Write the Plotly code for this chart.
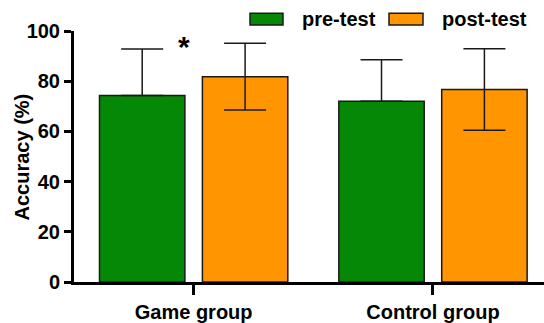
import plotly.graph_objects as go

# Accuracy by group, pre vs post test (mean and SD)
groups = ["Game group", "Control group"]
pre_mean = [74.3, 72.0]
pre_sd = [18.5, 16.5]
post_mean = [81.8, 76.7]
post_sd = [13.3, 16.2]
y_ticks = [0, 20, 40, 60, 80, 100]

GREEN = "#058805"
ORANGE = "#FF9500"
DARK = "#1a1a1a"
FONT = dict(family="Liberation Sans, Arial, sans-serif", size=20, color="black", weight="bold")

W, H = 544, 323
L, R, T, B = 74, 0, 31, 36

fig = go.Figure()
fig.add_trace(go.Bar(
    x=groups, y=pre_mean, name="pre-test",
    marker=dict(color=GREEN, line=dict(color=DARK, width=1.5)),
    error_y=dict(type="data", symmetric=False, array=pre_sd, arrayminus=[0, 0],
                 color=DARK, thickness=1.5, width=21),
))
fig.add_trace(go.Bar(
    x=groups, y=post_mean, name="post-test",
    marker=dict(color=ORANGE, line=dict(color=DARK, width=1.5)),
    error_y=dict(type="data", array=post_sd, color=DARK, thickness=1.5, width=21),
))

# significance marker over the game group
fig.add_annotation(x=-0.04, y=93.8, text="*", showarrow=False,
                   font=dict(family=FONT["family"], size=30, color="black", weight="bold"),
                   xanchor="center", yanchor="middle")

# custom legend with wide swatches
pw, ph = W - L - R, H - T - B


def px_x(v):
    return (v - L) / pw


def px_y(v):
    return (H - B - v) / ph


legend_items = [("pre-test", GREEN, 250, 283, 300), ("post-test", ORANGE, 389, 423, 440)]
for label, color, x0, x1, tx in legend_items:
    fig.add_shape(type="rect", xref="paper", yref="paper",
                  x0=px_x(x0), x1=px_x(x1), y0=px_y(25), y1=px_y(13),
                  fillcolor=color, line=dict(color=DARK, width=1.5))
    fig.add_annotation(xref="paper", yref="paper", x=px_x(tx), y=px_y(19),
                       text=label, showarrow=False, xanchor="left", yanchor="middle",
                       font=FONT)

# y-axis title placed by hand so it sits close to the tick labels
fig.add_annotation(xref="paper", yref="paper", x=px_x(22), y=px_y(160),
                   text="Accuracy (%)", textangle=-90, showarrow=False,
                   xanchor="center", yanchor="middle", font=FONT)

fig.update_layout(
    width=W, height=H,
    margin=dict(l=L, r=R, t=T, b=B),
    paper_bgcolor="white", plot_bgcolor="white",
    barmode="group", bargap=0.14, bargroupgap=0.17,
    showlegend=False,
    font=FONT,
    xaxis=dict(range=[-0.5, 1.464], showline=True, linecolor="black", linewidth=3,
               ticks="outside", ticklen=10, tickwidth=3, tickcolor="black",
               showgrid=False, tickfont=FONT, fixedrange=True),
    # labelled axis with short ticks so the numbers sit close to the axis
    yaxis=dict(range=[0, 100], tickvals=y_ticks, showline=True, linecolor="black",
               linewidth=3, ticks="outside", ticklen=7, tickwidth=3, tickcolor="black",
               showgrid=False, zeroline=False, tickfont=FONT),
    # overlay axis drawing the full-length tick marks
    yaxis2=dict(range=[0, 100], tickvals=y_ticks, overlaying="y", side="left",
                anchor="x", showline=False, ticks="outside", ticklen=11, tickwidth=3,
                tickcolor="black", showticklabels=False, showgrid=False, zeroline=False),
)

fig.write_html("out.html")
